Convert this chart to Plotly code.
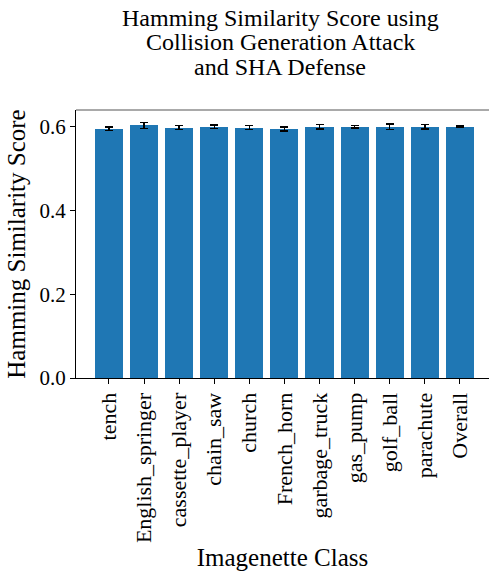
import plotly.graph_objects as go

# Per-class Hamming similarity under a collision-generation attack with SHA defense
classes = ["tench", "English_springer", "cassette_player", "chain_saw", "church",
           "French_horn", "garbage_truck", "gas_pump", "golf_ball", "parachute", "Overall"]
scores = [0.595, 0.603, 0.598, 0.600, 0.598, 0.595, 0.600, 0.600, 0.600, 0.600, 0.600]
errors = [0.004, 0.007, 0.005, 0.004, 0.005, 0.005, 0.005, 0.003, 0.006, 0.005, 0.002]
y_ticks = [0.0, 0.2, 0.4, 0.6]
title_lines = ["Hamming Similarity Score using", "Collision Generation Attack", "and SHA Defense"]

FONT = "Liberation Serif, Times New Roman, serif"
x_pos = list(range(len(classes)))

fig = go.Figure(
    go.Bar(
        x=x_pos,
        y=scores,
        width=0.8,
        marker=dict(color="#1f77b4", line=dict(width=0)),
        error_y=dict(type="data", array=errors, visible=True,
                     color="black", thickness=1.5, width=4),
    )
)

fig.update_layout(
    width=489,
    height=571,
    margin=dict(l=76, r=0, t=110, b=191),
    paper_bgcolor="white",
    plot_bgcolor="white",
    font=dict(family=FONT, color="black", size=21),
    showlegend=False,
    bargap=0,
)

# three-line title, set as separate lines for tight line spacing
for i, line in enumerate(title_lines):
    fig.add_annotation(
        text=line, xref="paper", yref="paper",
        x=0.494, y=1.345 - i * 0.092, xanchor="center", yanchor="middle",
        showarrow=False, font=dict(family=FONT, size=24, color="black"),
    )

fig.update_xaxes(
    tickmode="array",
    tickvals=x_pos,
    ticktext=classes,
    tickangle=-90,
    range=[-0.94, 10.83],
    showgrid=False,
    zeroline=False,
    showline=True,
    linecolor="black",
    linewidth=1,
    ticks="outside",
    ticklen=5,
    tickcolor="black",
    tickfont=dict(family=FONT, size=22),
    title=dict(text="Imagenette Class", font=dict(family=FONT, size=25), standoff=10),
)

fig.update_yaxes(
    range=[0, 0.64],
    tickmode="array",
    tickvals=y_ticks,
    tickformat=".1f",
    showgrid=False,
    zeroline=False,
    showline=True,
    linecolor="black",
    linewidth=1,
    ticks="outside",
    ticklen=5,
    tickcolor="black",
    tickfont=dict(family=FONT, size=21),
    title=dict(text="Hamming Similarity Score", font=dict(family=FONT, size=25), standoff=6),
)

# top spine
fig.add_shape(type="line", xref="paper", yref="paper", x0=0, x1=1, y0=1, y1=1,
              line=dict(color="#555555", width=1))

fig.write_html("out.html")
